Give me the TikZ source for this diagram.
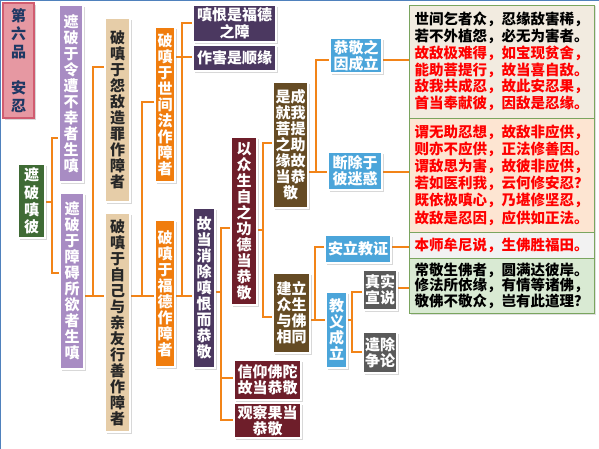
\documentclass[tikz,border=0pt]{standalone}
\usepackage{fontspec}
\newfontfamily\cjk{Noto Sans CJK SC}
\usetikzlibrary{shadows,backgrounds}
\definecolor{cpinkf}{RGB}{230,152,162}
\definecolor{cpinkd}{RGB}{208,92,112}
\definecolor{cnavy}{RGB}{31,56,100}
\definecolor{cgreen}{RGB}{63,107,53}
\definecolor{clpur}{RGB}{168,140,195}
\definecolor{ctan}{RGB}{230,205,168}
\definecolor{corange}{RGB}{240,125,14}
\definecolor{cdpur}{RGB}{75,56,96}
\definecolor{cmaroon}{RGB}{110,30,42}
\definecolor{cbrown}{RGB}{101,75,36}
\definecolor{cblue}{RGB}{75,165,218}
\definecolor{cgray}{RGB}{90,90,90}
\definecolor{cline}{RGB}{242,132,24}
\definecolor{cboxline}{RGB}{122,165,95}
\definecolor{cfa}{RGB}{242,235,224}
\definecolor{cfb}{RGB}{253,229,210}
\definecolor{cfc}{RGB}{242,242,242}
\definecolor{cfd}{RGB}{217,234,211}
\definecolor{cframe}{RGB}{79,129,189}
\begin{document}
\begin{tikzpicture}[x=1pt,y=-1pt,
  base/.style={draw=white, line width=1.6pt, inner sep=0pt, align=center,
    font=\cjk\bfseries\fontsize{15}{16}\selectfont, text=white,
    drop shadow={shadow xshift=1.8pt, shadow yshift=-1.8pt, opacity=0.3}},
  pinkbox/.style={base, draw=cpinkd, fill=cpinkf, text=cnavy, font=\cjk\bfseries\fontsize{15}{18}\selectfont},
  greenbox/.style={base, fill=cgreen, font=\cjk\bfseries\fontsize{15}{17.3}\selectfont},
  lpurbox/.style={base, fill=clpur},
  tanbox/.style={base, fill=ctan, text=black!85},
  orangebox/.style={base, fill=corange},
  dpurbox/.style={base, fill=cdpur, font=\cjk\bfseries\fontsize{15}{17}\selectfont},
  maroonbox/.style={base, fill=cmaroon},
  brownbox/.style={base, fill=cbrown},
  bluebox/.style={base, fill=cblue},
  graybox/.style={base, fill=cgray},
  textbox/.style={draw=cboxline, line width=0.9pt, inner sep=0pt, align=center, text=black,
    minimum width=185pt, font=\cjk\bfseries\fontsize{14.5}{16.8}\selectfont,
    drop shadow={shadow xshift=1.5pt, shadow yshift=-1.5pt, opacity=0.25}},
  conn/.style={draw=cline, line width=2pt}
]
\useasboundingbox (0,0) rectangle (599,449);

% nodes
\node[pinkbox, minimum width=31pt, minimum height=115pt] (P0) at (18.5,60.5) {第\\六\\品\\~\\安\\忍};
\node[greenbox, minimum width=27pt, minimum height=74pt] (G) at (31.5,201) {遮\\破\\嗔\\彼};
\node[lpurbox, minimum width=24pt, minimum height=177pt] (U1) at (71,93.5) {遮\\破\\于\\令\\遭\\不\\幸\\者\\生\\嗔};
\node[lpurbox, minimum width=24pt, minimum height=176pt] (U2) at (72,281) {遮\\破\\于\\障\\碍\\所\\欲\\者\\生\\嗔};
\node[tanbox, minimum width=25pt, minimum height=184pt] (T1) at (117.5,110) {破\\嗔\\于\\怨\\敌\\造\\罪\\作\\障\\者};
\node[tanbox, minimum width=25pt, minimum height=219pt] (T2) at (117.5,322.5) {破\\嗔\\于\\自\\己\\与\\亲\\友\\行\\善\\作\\障\\者};
\node[orangebox, minimum width=20pt, minimum height=155pt] (O1) at (165,104.5) {破\\嗔\\于\\世\\间\\法\\作\\障\\者};
\node[orangebox, minimum width=20pt, minimum height=147pt] (O2) at (165,293.5) {破\\嗔\\于\\福\\德\\作\\障\\者};
\node[dpurbox, minimum width=83pt, minimum height=37pt] (D1) at (234.5,23.5) {嗔恨是福德\\之障};
\node[dpurbox, minimum width=83pt, minimum height=26pt] (D2) at (234.5,58) {作害是顺缘};
\node[dpurbox, font=\cjk\bfseries\fontsize{15}{16}\selectfont, minimum width=22pt, minimum height=160pt] (D3) at (204,288) {故\\当\\消\\除\\嗔\\恨\\而\\恭\\敬};
\node[maroonbox, minimum width=26pt, minimum height=168pt] (M1) at (244,221) {以\\众\\生\\自\\之\\功\\德\\当\\恭\\敬};
\node[maroonbox, minimum width=67pt, minimum height=40pt] (M2) at (267.5,380) {信仰佛陀\\故当恭敬};
\node[maroonbox, minimum width=67pt, minimum height=35pt] (M3) at (267.5,420.5) {观察果当\\恭敬};
\node[brownbox, minimum width=35pt, minimum height=126pt] (B1) at (290.5,145) {是成\\就我\\菩提\\之助\\缘故\\当恭\\敬};
\node[brownbox, minimum width=37pt, minimum height=80pt] (B2) at (291.5,313) {建立\\众生\\与佛\\相同};
\node[bluebox, minimum width=52pt, minimum height=35pt] (L1) at (356,55.5) {恭敬之\\因成立};
\node[bluebox, minimum width=54pt, minimum height=38pt] (L2) at (355,171) {断除于\\彼迷惑};
\node[bluebox, minimum width=66pt, minimum height=28pt] (L3) at (358,249) {安立教证};
\node[bluebox, minimum width=21pt, minimum height=76pt] (L4) at (336.5,330) {教\\义\\成\\立};
\node[graybox, minimum width=34pt, minimum height=40pt] (R1) at (380,290) {真实\\宣说};
\node[graybox, minimum width=34pt, minimum height=41pt] (R2) at (380,352.5) {遣除\\争论};

\node[textbox, fill=cfa, minimum height=113pt] (boxA) at (501.5,61.5)
 {世间乞者众，忍缘敌害稀，\\若不外植怨，必无为害者。\\
  \textcolor{red}{故敌极难得，如宝现贫舍，}\\\textcolor{red}{能助菩提行，故当喜自敌。}\\
  \textcolor{red}{敌我共成忍，故此安忍果，}\\\textcolor{red}{首当奉献彼，因敌是忍缘。}};
\node[textbox, fill=cfb, minimum height=114pt, text=red, font=\cjk\bfseries\fontsize{14.5}{17.2}\selectfont] (boxB) at (501.5,175)
 {谓无助忍想，故敌非应供，\\则亦不应供，正法修善因。\\谓敌思为害，故彼非应供，\\若如医利我，云何修安忍？\\既依极嗔心，乃堪修坚忍，\\故敌是忍因，应供如正法。};
\node[textbox, fill=cfc, minimum height=26pt, text=red] (boxC) at (501.5,245)
 {本师牟尼说，生佛胜福田。};
\node[textbox, fill=cfd, minimum height=55pt, font=\cjk\bfseries\fontsize{14.5}{15.5}\selectfont] (boxD) at (501.5,285.5)
 {常敬生佛者，圆满达彼岸。\\修法所依缘，有情等诸佛，\\敬佛不敬众，岂有此道理？};

% connectors
\begin{pgfonlayer}{background}
\fill[white] (0,0) rectangle (599,449);
\draw[cframe, line width=1pt] (0.5,449) -- (0.5,0.5) -- (599,0.5);
\draw[conn] (G.east |- 0,202) -- (52,202);
\draw[conn] (U1.west |- 0,138) -- (52,138) -- (52,273) -- (U2.west |- 0,273);
\draw[conn] (U2.east |- 0,296) -- (T2.west |- 0,296);
\draw[conn] (T1.west |- 0,67) -- (93,67) -- (93,296);
\draw[conn] (T2.east |- 0,296) -- (O2.west |- 0,296);
\draw[conn] (O1.west |- 0,102) -- (142,102) -- (142,296);
\draw[conn] (O2.east |- 0,296) -- (D3.west |- 0,296);
\draw[conn] (O1.east |- 0,57) -- (D2.west |- 0,57);
\draw[conn] (D1.west |- 0,23) -- (182,23) -- (182,296);
\draw[conn] (D3.east |- 0,292) -- (221,292);
\draw[conn] (M1.west |- 0,228) -- (221,228) -- (221,420) -- (M3.west |- 0,420);
\draw[conn] (221,378) -- (M2.west |- 0,378);
\draw[conn] (M1.east |- 0,230) -- (263,230);
\draw[conn] (B1.west |- 0,143) -- (263,143) -- (263,317) -- (B2.west |- 0,317);
\draw[conn] (B1.east |- 0,172) -- (L2.west |- 0,172);
\draw[conn] (L1.west |- 0,60) -- (316,60) -- (316,172);
\draw[conn] (L1.east |- 0,60) -- (boxA.west |- 0,60);
\draw[conn] (L2.east |- 0,172) -- (boxB.west |- 0,172);
\draw[conn] (B2.east |- 0,320) -- (L4.west |- 0,320);
\draw[conn] (L3.west |- 0,247) -- (315,247) -- (315,320);
\draw[conn] (L3.east |- 0,247) -- (boxC.west |- 0,247);
\draw[conn] (L4.east |- 0,320) -- (352,320);
\draw[conn] (R1.west |- 0,292) -- (352,292) -- (352,352) -- (R2.west |- 0,352);
\draw[conn] (R1.east |- 0,288) -- (boxD.west |- 0,288);
\end{pgfonlayer}
\end{tikzpicture}
\end{document}
